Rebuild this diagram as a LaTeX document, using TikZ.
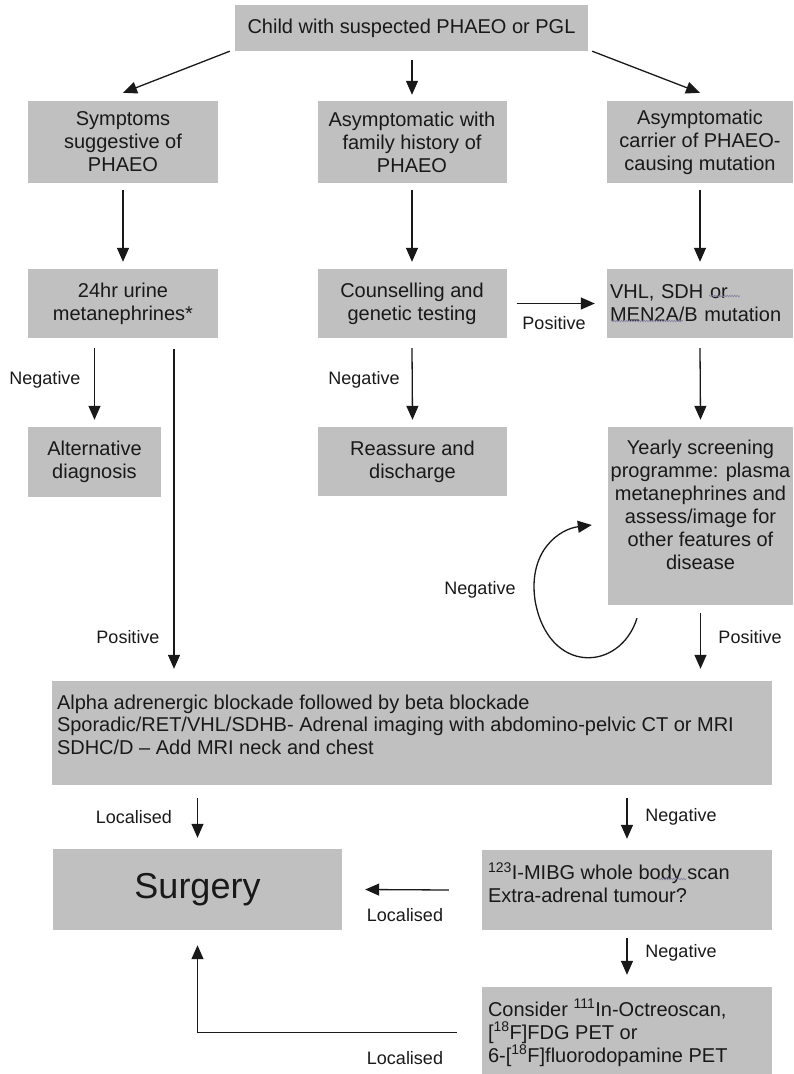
\documentclass[tikz,border=0pt]{standalone}
\usepackage{fontspec}
\setmainfont{Liberation Sans}
\usetikzlibrary{arrows.meta,calc,decorations.pathmorphing}
\definecolor{boxgray}{RGB}{192,192,192}
\definecolor{ink}{RGB}{25,25,25}
\definecolor{squig}{RGB}{135,128,160}
\begin{document}
\begin{tikzpicture}[x=1pt,y=-1pt,
  box/.style={fill=boxgray, draw=none, inner sep=0pt, text=ink, align=center, font=\fontsize{20}{23}\selectfont},
  txt/.style={inner sep=0pt, text=ink, font=\fontsize{20}{23}\selectfont},
  lab/.style={inner sep=0pt, text=ink, font=\fontsize{18}{21}\selectfont},
  arr/.style={draw=ink, line width=1.3pt, -{Triangle[length=14pt,width=12pt]}},
  wavy/.style={draw=squig, line width=0.6pt, decorate, decoration={snake, amplitude=0.8pt, segment length=2.5pt}}]
\useasboundingbox (0,0) rectangle (794,1074);

% boxes
\node[box, minimum width=353pt, minimum height=46pt] (top) at (411.5,28) {Child with suspected PHAEO or PGL};

\node[box, minimum width=190pt, minimum height=82pt] (sym) at (123,142) {Symptoms\\suggestive of\\PHAEO};
\node[box, minimum width=189pt, minimum height=82pt] (fam) at (412,142) {Asymptomatic with\\family history of\\PHAEO};
\node[box, minimum width=186pt, minimum height=82pt] (car) at (700,142) {Asymptomatic\\carrier of PHAEO-\\causing mutation};

\node[box, minimum width=190pt, minimum height=69pt] (urine) at (123,303.5) {24hr urine\\metanephrines*};
\node[box, minimum width=189pt, minimum height=69pt] (couns) at (412,303.5) {Counselling and\\genetic testing};
\node[box, minimum width=186pt, minimum height=69pt, align=left, text width=180pt] (mut) at (700,303.5) {VHL, SDH or\\MEN2A/B mutation};

\node[box, minimum width=133pt, minimum height=70pt] (alt) at (94.5,462) {Alternative\\diagnosis};
\node[box, minimum width=189pt, minimum height=69pt] (reas) at (412.5,461.5) {Reassure and\\discharge};
\node[box, minimum width=185pt, minimum height=178pt] (year) at (700.5,516) {};
\node[txt, anchor=north, align=center] (yeartxt) at ([yshift=-12.5pt]year.north) {Yearly screening\\programme: plasma\\metanephrines and\\assess/image for\\other features of\\disease};

\node[box, minimum width=720pt, minimum height=104pt] (big) at (412,733) {};
\node[txt, anchor=north west, align=left, font=\fontsize{20}{22.7}\selectfont] (bigtxt) at ([xshift=5pt,yshift=-13.5pt]big.north west) {Alpha adrenergic blockade followed by beta blockade\\Sporadic/RET/VHL/SDHB- Adrenal imaging with abdomino-pelvic CT or MRI\\SDHC/D -- Add MRI neck and chest};

\node[box, minimum width=289pt, minimum height=81pt, font=\fontsize{36}{40}\selectfont] (surg) at (197.5,889.5) {Surgery};
\node[box, minimum width=290pt, minimum height=80pt] (mibg) at (627,890) {};
\node[txt, anchor=north west, align=left] (mibgtxt) at ([xshift=6pt,yshift=-12.5pt]mibg.north west) {\textsuperscript{123}I-MIBG whole body scan\\Extra-adrenal tumour?};
\node[box, minimum width=290pt, minimum height=91pt] (cons) at (627,1032.5) {};
\node[txt, anchor=north west, align=left] (constxt) at ([xshift=6pt,yshift=-12pt]cons.north west) {Consider \textsuperscript{111}In-Octreoscan,\\{[}\textsuperscript{18}F]FDG PET or\\6-{[}\textsuperscript{18}F]fluorodopamine PET};

% spell-check squiggles
\draw[wavy] (709,296) -- (740,296);
\draw[wavy] (611,321) -- (683,321);
\draw[wavy] (658,879) -- (686,879);

% labels
\node[lab] (lpos1) at (554,323) {Positive};
\node[lab] (lneg1) at (45,380) {Negative};
\node[lab] (lneg2) at (364,380) {Negative};
\node[lab] (lneg3) at (480,590) {Negative};
\node[lab] (lpos2) at (128,637) {Positive};
\node[lab] (lpos3) at (750,637) {Positive};
\node[lab] (lloc1) at (134,817) {Localised};
\node[lab] (lneg4) at (681,817) {Negative};
\node[lab] (lloc2) at (405,915) {Localised};
\node[lab] (lneg5) at (681,953) {Negative};
\node[lab] (lloc3) at (405,1058) {Localised};

% connectors
\draw[arr] ([xshift=-5pt]top.south west) -- ([yshift=8pt]sym.north);
\draw[arr] ([yshift=-9pt]top.south -| fam.north) -- ([yshift=6pt]fam.north);
\draw[arr] ([xshift=4pt]top.south east) -- ([yshift=8pt]car.north);

\draw[arr] ([yshift=-7pt]sym.south) -- ([yshift=7pt]urine.north);
\draw[arr] ([yshift=-7pt]fam.south) -- ([yshift=7pt]couns.north);
\draw[arr] ([yshift=-7pt]car.south) -- ([yshift=7pt]mut.north);

\draw[arr] ([xshift=10pt]couns.east) -- ([xshift=-12pt]mut.west);

\draw[arr] ([yshift=-10pt]urine.south -| alt.north) -- ([yshift=7pt]alt.north);
\draw[arr] ([xshift=51pt,yshift=-11pt]urine.south) -- ([xshift=51pt,yshift=12pt]urine.south |- big.north);
\draw[arr] ([yshift=-10pt]couns.south) -- ([yshift=7pt]reas.north);
\draw[arr] ([yshift=-10pt]mut.south) -- ([yshift=7pt]year.north);

\coordinate (ls) at ([xshift=-63.5pt,yshift=-13pt]year.south);
\coordinate (le) at ([xshift=-16pt,yshift=-9pt]year.west);
\draw[arr] (ls) .. controls ($(ls)+(-17,54)$) and ($(ls)+(-89,57)$) .. ($(ls)+(-102,-18)$)
  .. controls ($(ls)+(-109,-68)$) and ($(le)+(-32,4)$) .. (le);

\draw[arr] ([yshift=-8pt]year.south) -- ([yshift=12pt]big.north -| year.south);

\draw[arr] ([yshift=-13pt]big.south -| surg.north) -- ([yshift=11pt]surg.north);
\draw[arr] ([yshift=-13pt]big.south -| mibg.north) -- ([yshift=11pt]mibg.north);
\draw[arr] ([xshift=-33pt]mibg.west) -- ([xshift=23pt]surg.east);
\draw[arr] ([yshift=-8pt]mibg.south) -- ([yshift=12pt]cons.north);
\draw[arr] ([xshift=-25pt]cons.west) -| ([yshift=-15pt]surg.south);
\end{tikzpicture}
\end{document}
